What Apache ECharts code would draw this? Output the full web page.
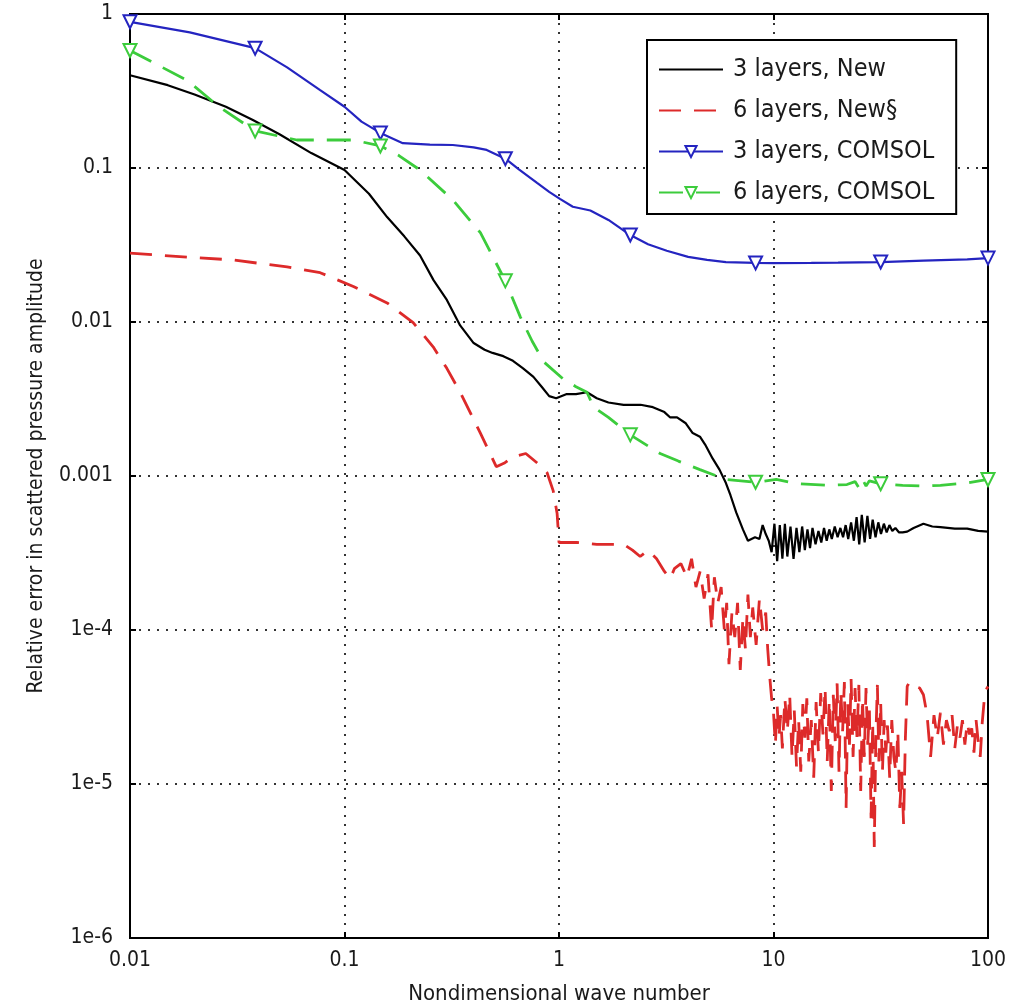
<!DOCTYPE html>
<html><head><meta charset="utf-8">
<script src="https://cdn.jsdelivr.net/npm/echarts@6/dist/echarts.min.js"></script>
<style>html,body{margin:0;padding:0;background:#fff}#c{width:1025px;height:1005px}</style>
</head><body><div id="c"></div>
<script>
// ---- data ----
const seriesNames = ['3 layers, New', '6 layers, New§', '3 layers, COMSOL', '6 layers, COMSOL'];
const xTickLabels = ['0.01', '0.1', '1', '10', '100'];
const yTickLabels = ['1e-6', '1e-5', '1e-4', '0.001', '0.01', '0.1', '1'];
const markerX = [0.01, 0.0383, 0.147, 0.562, 2.15, 8.25, 31.6, 100];

const black3X = [0.01,0.015,0.02,0.028,0.0374,0.05,0.07,0.1,0.13,0.158,0.19,0.225,0.26,0.30,0.346,0.40,0.45,0.49,0.55,0.61,0.68,0.76,0.83,0.90,0.97,1.08,1.2,1.35,1.5,1.7,2.0,2.4,2.74,3.1,3.3,3.55,3.9,4.2,4.54,4.8,5.2,5.6,6.0,6.3,6.7,7.2,7.6,8.2,8.6,8.9,9.2,9.5,
 9.8,10.1,10.4,10.7,11.0,11.3,11.6,12.0,12.4,12.8,13.2,13.6,14.0,14.4,14.8,15.2,15.7,16.2,16.7,17.2,17.7,18.2,18.7,19.3,19.9,20.5,21.1,21.7,22.3,23.0,23.7,24.4,25.1,25.8,26.6,27.4,28.2,29.0,29.9,30.8,31.7,32.7,33.7,34.7,35.8,37,38.5,40,42,45,50,55,60,70,80,90,100];
const black3Y = [0.40,0.345,0.30,0.25,0.205,0.165,0.125,0.097,0.068,0.048,0.036,0.027,0.0187,0.0139,0.0095,0.0073,0.0066,0.0063,0.0060,0.0056,0.0050,0.0044,0.0038,0.0033,0.0032,0.0034,0.0034,0.0035,0.0032,0.0030,0.0029,0.0029,0.0028,0.0026,0.0024,0.0024,0.0022,0.0019,0.0018,0.0016,0.0013,0.0011,0.0009,0.00075,0.00058,0.00045,0.00038,0.00040,0.00039,0.00048,0.00042,0.00038,
 3.2e-4,4.9e-4,2.8e-4,4.8e-4,2.9e-4,4.9e-4,3.0e-4,4.7e-4,2.9e-4,4.6e-4,3.2e-4,4.7e-4,3.3e-4,4.5e-4,3.4e-4,4.6e-4,3.6e-4,4.4e-4,3.7e-4,4.6e-4,3.8e-4,4.5e-4,3.9e-4,4.7e-4,4.0e-4,4.6e-4,4.0e-4,4.8e-4,3.9e-4,5.0e-4,3.8e-4,5.4e-4,3.6e-4,5.6e-4,3.7e-4,5.5e-4,3.9e-4,5.2e-4,4.0e-4,5.0e-4,4.2e-4,4.9e-4,4.3e-4,4.8e-4,4.4e-4,4.6e-4,4.3e-4,4.3e-4,4.35e-4,4.6e-4,4.9e-4,4.7e-4,4.65e-4,4.55e-4,4.55e-4,4.4e-4,4.35e-4];

const red6X = [0.01,0.0185,0.030,0.054,0.077,0.11,0.158,0.209,0.259,0.30,0.346,0.43,0.51,0.56,0.61,0.70,0.80,0.88,0.94,0.98,1.0,1.21,1.5,2.0,2.2,2.39,2.6,2.85,3.1,3.3,3.45,3.7,3.95,4.15,4.35,4.55,4.75,4.95,5.15,5.3,5.5,5.7,5.9,6.05,6.2,6.4,6.6,6.8,7.0,7.2,7.4,7.6,7.8,8.0,8.3,8.6,8.9,9.2,9.4,9.6,9.8,10.0,
 10.2,10.4,10.6,10.8,11.0,11.3,11.6,11.9,12.2,12.5,12.8,13.1,13.4,13.7,14.0,14.3,14.6,15.0,15.4,15.8,16.2,16.6,17.0,17.4,17.8,18.2,18.6,19.0,19.4,19.8,20.2,20.6,21.0,21.4,21.8,22.2,22.6,23.0,23.5,24.0,24.5,25.0,25.5,26.0,26.5,27.0,27.5,28.0,28.5,29.0,29.5,30.0,30.5,31.0,31.6,32.2,32.8,33.4,34.0,34.8,35.6,36.4,37.2,38.0,38.8,39.6,40.4,41.2,42,43,44,46,48,50,52,54,56,58,60,62,64,66,68,70,72,74,76,78,80,82,84,86,88,90,92,94,96,98,100];
const red6Y = [0.028,0.0264,0.0253,0.0228,0.0209,0.017,0.0133,0.0099,0.0069,0.0050,0.0035,0.0019,0.00115,0.00122,0.00133,0.0014,0.0012,0.00105,0.0008,0.00057,0.00037,0.00037,0.00036,0.00036,0.00033,0.00030,0.00033,0.00029,0.00024,0.000215,0.00025,0.00027,0.00022,0.00029,0.00019,0.00024,0.00016,0.00023,0.00010,0.00022,0.00015,0.00019,0.00010,0.00015,6e-5,0.00013,9e-5,0.00015,5.5e-5,0.00012,7.5e-5,0.00017,9e-5,0.00014,8e-5,0.00016,0.00010,0.00013,7.5e-5,5e-5,3.6e-5,2.9e-5,
 1.8e-5,3.2e-5,2.0e-5,2.8e-5,1.7e-5,3.6e-5,2.2e-5,3.8e-5,1.5e-5,3.0e-5,1.3e-5,2.6e-5,1.2e-5,3.3e-5,2.0e-5,3.6e-5,1.4e-5,2.6e-5,1.1e-5,3.4e-5,1.6e-5,3.9e-5,2.1e-5,4.2e-5,1.4e-5,3.5e-5,9e-6,3.8e-5,1.9e-5,4.5e-5,1.2e-5,4.0e-5,2.2e-5,4.6e-5,7e-6,3.3e-5,1.8e-5,4.8e-5,1.5e-5,4.2e-5,2.0e-5,4.4e-5,9e-6,3.6e-5,1.5e-5,4.2e-5,1.8e-5,3.0e-5,6e-6,2.5e-5,3.9e-6,2.0e-5,4.4e-5,1.4e-5,3.4e-5,1.2e-5,2.6e-5,1.6e-5,2.4e-5,1.1e-5,2.6e-5,1.5e-5,1.2e-5,2.2e-5,7e-6,1.2e-5,5.5e-6,2.0e-5,4.3e-5,4.6e-5,4.4e-5,4.3e-5,4.2e-5,3.8e-5,2.8e-5,1.5e-5,2.8e-5,2.0e-5,2.9e-5,1.8e-5,2.6e-5,2.2e-5,2.8e-5,1.7e-5,2.4e-5,2.0e-5,2.6e-5,1.8e-5,2.5e-5,2.1e-5,2.3e-5,1.6e-5,2.6e-5,1.9e-5,1.5e-5,2.5e-5,3.5e-5,4.1e-5,4.3e-5];

const blue3X = [0.01,0.019,0.0383,0.054,0.077,0.1,0.12,0.147,0.187,0.25,0.32,0.40,0.46,0.562,0.65,0.79,0.9,1.01,1.16,1.40,1.7,2.15,2.6,3.18,4.0,4.9,6.0,8.25,10,15,20,31.6,50,80,100];
const blue3Y = [0.89,0.76,0.60,0.45,0.32,0.25,0.20,0.169,0.145,0.142,0.141,0.136,0.131,0.115,0.098,0.080,0.070,0.063,0.056,0.053,0.046,0.0367,0.032,0.029,0.0265,0.0253,0.0245,0.0242,0.0241,0.0242,0.0243,0.0245,0.025,0.0255,0.026];

const green6X = [0.01,0.0185,0.026,0.0383,0.06,0.11,0.147,0.18,0.225,0.32,0.43,0.562,0.66,0.75,0.85,1.04,1.2,1.35,1.45,1.7,2.15,2.96,3.6,4.54,6.0,8.25,10.3,13,17.8,22,24,25,26,27,28,31.6,40,50,60,80,100];
const green6Y = [0.58,0.37,0.25,0.174,0.152,0.152,0.139,0.12,0.097,0.062,0.038,0.0185,0.0108,0.0075,0.0055,0.0043,0.0038,0.0035,0.0028,0.0024,0.00185,0.0014,0.00125,0.0011,0.00095,0.00091,0.00095,0.00089,0.00087,0.00088,0.00092,0.00084,0.00095,0.00086,0.00093,0.00089,0.00087,0.00086,0.00087,0.0009,0.00095];

// ---- build ----
const pairs = (xs, ys) => xs.map((x, i) => [x, ys[i]]);
const withMarkers = (xs, ys) => xs.map((x, i) => ({
  value: [x, ys[i]],
  symbol: markerX.some(m => Math.abs(m - x) / m < 1e-6) ? 'emptyTriangle' : 'none'
}));

const chart = echarts.init(document.getElementById('c'), null, {renderer: 'canvas'});
const FONT = '"DejaVu Sans Condensed", "DejaVu Sans", sans-serif';
const TXT = '#1a1a1a';
const dotted = {type: [2, 7], color: '#333', width: 2};
const C = {black: '#000', red: '#dd2a2a', blue: '#2424c0', green: '#3ccc3c'};

chart.setOption({
  backgroundColor: '#fff',
  animation: false,
  textStyle: {fontFamily: FONT},
  grid: {left: 130, right: 37, top: 14, bottom: 67, show: true, borderColor: '#000', borderWidth: 2,
         backgroundColor: 'transparent', containLabel: false, outerBoundsMode: 'none'},
  legend: {
    orient: 'vertical', left: 647, top: 40,
    padding: [17, 22, 9, 11],
    itemGap: 16,
    itemWidth: 64, itemHeight: 14,
    backgroundColor: '#fff', borderColor: '#000', borderWidth: 2,
    textStyle: {fontFamily: FONT, fontSize: 25, color: TXT, lineHeight: 24, padding: [0, 0, 0, 5]},
    data: [
      {name: seriesNames[0], itemStyle: {opacity: 0}},
      {name: seriesNames[1], itemStyle: {opacity: 0}},
      {name: seriesNames[2]},
      {name: seriesNames[3]}
    ]
  },
  xAxis: [{
    type: 'log', logBase: 10, min: 0.01, max: 100,
    name: 'Nondimensional wave number', nameLocation: 'middle', nameGap: 45,
    nameTextStyle: {fontFamily: FONT, fontSize: 22, color: TXT},
    axisLine: {show: true, lineStyle: {color: '#000', width: 2}},
    axisTick: {show: true, inside: true, length: 6, lineStyle: {color: '#000', width: 2}},
    axisLabel: {fontSize: 21, color: TXT, margin: 12, fontFamily: FONT,
      formatter: v => xTickLabels[Math.round(Math.log10(v)) + 2]},
    splitLine: {show: true, lineStyle: dotted},
    minorTick: {show: false}
  }, {
    type: 'log', logBase: 10, min: 0.01, max: 100, position: 'top',
    axisLine: {show: true, lineStyle: {color: '#000', width: 2}},
    axisTick: {show: true, inside: true, length: 6, lineStyle: {color: '#000', width: 2}},
    axisLabel: {show: false}, splitLine: {show: false}
  }],
  yAxis: [{
    type: 'log', logBase: 10, min: 1e-6, max: 1,
    name: 'Relative error in scattered pressure amplitude', nameLocation: 'middle', nameGap: 83, nameRotate: 90,
    nameTextStyle: {fontFamily: FONT, fontSize: 21, color: TXT},
    axisLine: {show: true, lineStyle: {color: '#000', width: 2}},
    axisTick: {show: true, inside: true, length: 6, lineStyle: {color: '#000', width: 2}},
    axisLabel: {fontSize: 21, color: TXT, margin: 17, fontFamily: FONT,
      formatter: v => yTickLabels[Math.round(Math.log10(v)) + 6]},
    splitLine: {show: true, lineStyle: dotted}
  }, {
    type: 'log', logBase: 10, min: 1e-6, max: 1, position: 'right',
    axisLine: {show: true, lineStyle: {color: '#000', width: 2}},
    axisTick: {show: true, inside: true, length: 6, lineStyle: {color: '#000', width: 2}},
    axisLabel: {show: false}, splitLine: {show: false}
  }],
  series: [
    {name: seriesNames[0], type: 'line', data: pairs(black3X, black3Y), showSymbol: false, symbol: 'none',
     lineStyle: {color: C.black, width: 2.2}, itemStyle: {color: C.black}, z: 3},
    {name: seriesNames[1], type: 'line', data: pairs(red6X, red6Y), showSymbol: false, symbol: 'none',
     lineStyle: {color: C.red, width: 2.8, type: [22, 13]}, itemStyle: {color: C.red}, z: 2},
    {name: seriesNames[2], type: 'line', data: withMarkers(blue3X, blue3Y), showSymbol: true, showAllSymbol: true,
     symbol: 'emptyTriangle', symbolRotate: 180, symbolSize: 13,
     lineStyle: {color: C.blue, width: 2.2}, itemStyle: {color: C.blue, borderWidth: 1.6}, z: 4},
    {name: seriesNames[3], type: 'line', data: withMarkers(green6X, green6Y), showSymbol: true, showAllSymbol: true,
     symbol: 'emptyTriangle', symbolRotate: 180, symbolSize: 13,
     lineStyle: {color: C.green, width: 2.8, type: [24, 13]}, itemStyle: {color: C.green, borderWidth: 1.6}, z: 4}
  ]
});
</script>
</body></html>
